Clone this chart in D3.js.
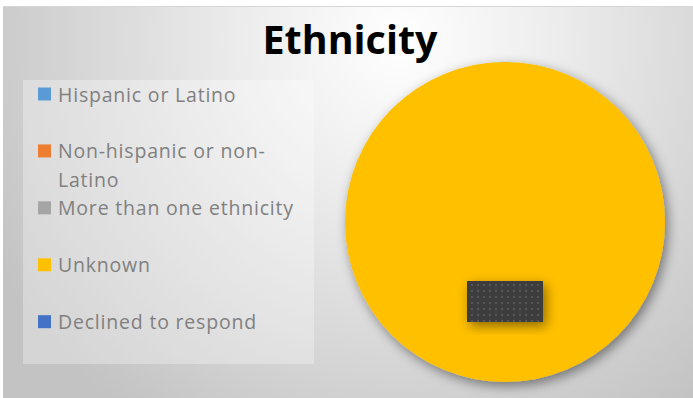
<!DOCTYPE html>
<html><head><meta charset="utf-8">
<script src="https://cdn.jsdelivr.net/npm/d3@7"></script>
<style>html,body{margin:0;padding:0;background:#fff;}svg{display:block;}</style>
</head><body>
<script>
const title = "Ethnicity";
const categories = ["Hispanic or Latino", "Non-hispanic or non-Latino", "More than one ethnicity", "Unknown", "Declined to respond"];
const legendLines = [["Hispanic or Latino"], ["Non-hispanic or non-", "Latino"], ["More than one ethnicity"], ["Unknown"], ["Declined to respond"]];
const values = [0, 0, 0, 100, 0];
const colors = ["#5B9BD5", "#ED7D31", "#A5A5A5", "#FFC000", "#4472C4"];

const W = 693, H = 398;
const svg = d3.select("body").append("svg").attr("width", W).attr("height", H);
const defs = svg.append("defs");

const rg = defs.append("radialGradient").attr("id", "bg")
  .attr("gradientUnits", "userSpaceOnUse").attr("cx", 400).attr("cy", 40).attr("r", 460);
rg.append("stop").attr("offset", "0%").attr("stop-color", "#ffffff");
rg.append("stop").attr("offset", "35%").attr("stop-color", "#ececec");
rg.append("stop").attr("offset", "100%").attr("stop-color", "#c3c3c3");

const sh = defs.append("filter").attr("id", "shadow").attr("x", "-20%").attr("y", "-20%").attr("width", "150%").attr("height", "150%");
sh.append("feDropShadow").attr("dx", 3).attr("dy", 4).attr("stdDeviation", 6).attr("flood-color", "#000").attr("flood-opacity", 0.45);

const pat = defs.append("pattern").attr("id", "dots").attr("patternUnits", "userSpaceOnUse").attr("width", 6).attr("height", 6);
pat.append("rect").attr("width", 6).attr("height", 6).attr("fill", "#3d3d3d");
pat.append("rect").attr("x", 2).attr("y", 2).attr("width", 2).attr("height", 2).attr("fill", "#575757");

// chart area
svg.append("rect").attr("x", 3).attr("y", 7).attr("width", W - 3).attr("height", H - 7).attr("fill", "url(#bg)");
svg.append("line").attr("x1", 3).attr("x2", W).attr("y1", 6.5).attr("y2", 6.5).attr("stroke", "#d6d6d6");

// title
svg.append("text").attr("x", 350).attr("y", 54).attr("text-anchor", "middle")
  .attr("font-family", "'Open Sans', 'Liberation Sans', sans-serif").attr("font-weight", "bold")
  .attr("font-size", 40).attr("fill", "#000").attr("textLength", 175).attr("lengthAdjust", "spacingAndGlyphs")
  .text(title);

// legend panel
svg.append("rect").attr("x", 23).attr("y", 80).attr("width", 291).attr("height", 284).attr("fill", "#ffffff").attr("fill-opacity", 0.3);

const yLeg = d3.scalePoint().domain(categories).range([94, 321.7]);
const lg = svg.append("g").selectAll("g").data(categories).join("g")
  .attr("transform", d => `translate(0,${yLeg(d)})`);
lg.append("rect").attr("x", 38).attr("y", -6.5).attr("width", 13).attr("height", 13).attr("fill", (d, i) => colors[i]);
lg.append("text").attr("x", 58).attr("y", 7.5)
  .attr("font-family", "'Open Sans', 'Liberation Sans', sans-serif").attr("font-size", 19.5)
  .attr("letter-spacing", 0.8).attr("fill", "#808080")
  .each(function(d, i) {
    const t = d3.select(this);
    legendLines[i].forEach((ln, j) => t.append("tspan").attr("x", 58).attr("dy", j === 0 ? 0 : 29).text(ln));
  });

// pie
const cx = 505, cy = 222, R = 160;
const pie = d3.pie().sort(null).value(d => d)(values);
const arc = d3.arc().innerRadius(0).outerRadius(R);
const pg = svg.append("g").attr("transform", `translate(${cx},${cy})`);
pg.append("g").attr("filter", "url(#shadow)").selectAll("path").data(pie).join("path")
  .attr("d", arc).attr("fill", (d, i) => colors[i]);

// data label box
const labelArc = d3.arc().innerRadius(R * 0.5).outerRadius(R * 0.5);
pie.filter(d => d.value > 0).forEach(d => {
  const [lx, ly] = labelArc.centroid(d);
  pg.append("rect").attr("x", lx - 38).attr("y", ly - 21).attr("width", 76).attr("height", 41)
    .attr("fill", "url(#dots)").attr("filter", "url(#shadow)");
});
</script>
</body></html>
